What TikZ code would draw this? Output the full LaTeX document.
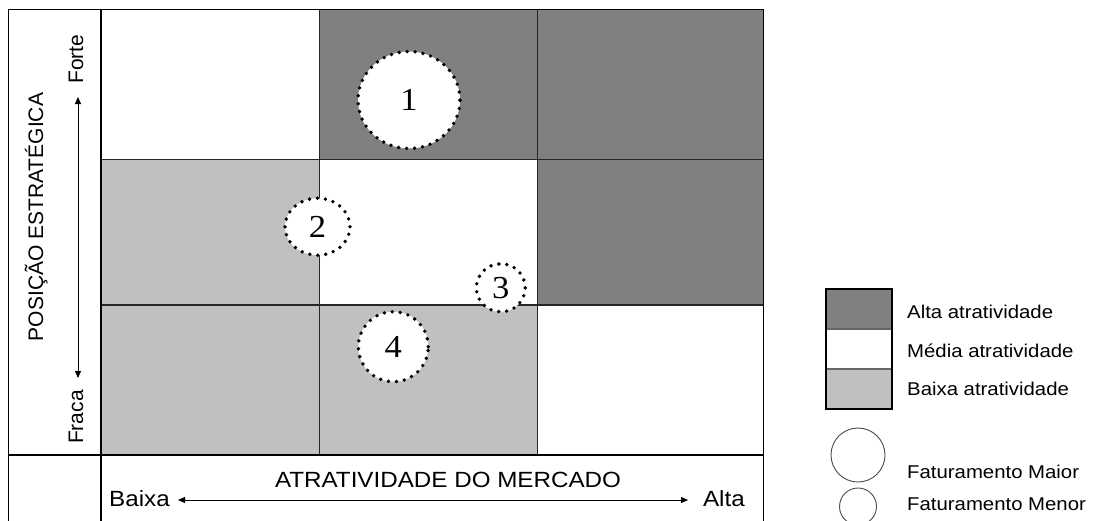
\documentclass[tikz,border=0pt]{standalone}
\usepackage{fontspec}
\setmainfont{Liberation Sans}
\newfontfamily\labfont[FakeStretch=1.1]{Liberation Sans}
\newfontfamily\numfont[FakeStretch=1.08]{Liberation Serif}
\usetikzlibrary{shapes.geometric,arrows.meta}
\definecolor{darkcell}{RGB}{128,128,128}
\definecolor{lightcell}{RGB}{192,192,192}
\begin{document}
\begin{tikzpicture}[x=1pt,y=-1pt,
  gridline/.style={line width=1.2pt, draw=black!85},
  frameline/.style={line width=1.4pt, draw=black},
  bubble/.style={ellipse, draw=black, fill=white, line width=3.8pt,
    dash pattern=on 0pt off 8pt, line cap=round, inner sep=0pt,
    font=\numfont\fontsize{32}{32}\selectfont},
  axlabel/.style={font=\labfont\fontsize{22}{22}\selectfont, inner sep=0pt},
  vlabel/.style={font=\fontsize{21}{21}\selectfont, inner sep=0pt, rotate=90, anchor=base},
  legtext/.style={font=\labfont\fontsize{18.5}{18.5}\selectfont, anchor=base west, inner sep=0pt},
  legcircle/.style={circle, draw=black!70, line width=0.9pt, inner sep=0pt},
  axarrow/.style={line width=0.9pt, {Triangle[length=7pt,width=6pt]}-{Triangle[length=7pt,width=6pt]}}
]
\useasboundingbox (0,0) rectangle (1098,520);
\fill[white] (0,0) rectangle (1098,520);
% cells
\fill[white]     (101,9.5)   rectangle (319.5,159.5);
\fill[darkcell]  (319.5,9.5) rectangle (537.5,159.5);
\fill[darkcell]  (537.5,9.5) rectangle (763.5,159.5);
\fill[lightcell] (101,159.5)   rectangle (319.5,305);
\fill[white]     (319.5,159.5) rectangle (537.5,305);
\fill[darkcell]  (537.5,159.5) rectangle (763.5,305);
\fill[lightcell] (101,305)   rectangle (319.5,455);
\fill[lightcell] (319.5,305) rectangle (537.5,455);
\fill[white]     (537.5,305) rectangle (763.5,455);
% grid lines
\draw[gridline] (319.5,9.5) -- (319.5,455);
\draw[gridline] (537.5,9.5) -- (537.5,455);
\draw[gridline] (101,159.5) -- (763.5,159.5);
\draw[gridline] (101,305) -- (763.5,305);
% frame
\draw[frameline] (8.5,530) -- (8.5,9.5) -- (763.5,9.5) -- (763.5,530);
\draw[frameline] (101,9.5) -- (101,530);
\draw[frameline] (8.5,455) -- (763.5,455);
% bubbles
\node[bubble, minimum width=102pt, minimum height=97pt] (b1) at (409,100) {1};
\node[bubble, minimum width=65pt, minimum height=57pt] (b2) at (317.5,226.7) {2};
\node[bubble, minimum width=49pt, minimum height=48pt] (b3) at (500.8,287.8) {3};
\node[bubble, minimum width=70pt, minimum height=70pt] (b4) at (393.3,346.7) {4};
% vertical axis
\node[vlabel] (posicao) at (43,217) {POSIÇÃO ESTRATÉGICA};
\node[vlabel] (forte) at (83,59) {Forte};
\node[vlabel] (fraca) at (83,417) {Fraca};
\coordinate (vtop) at (78,97);
\coordinate (vbot) at (78,378);
\draw[axarrow] (vbot) -- (vtop);
% horizontal axis
\node[axlabel, anchor=base] (atr) at (448,487) {ATRATIVIDADE DO MERCADO};
\node[axlabel, anchor=base west] (baixa) at (109,506) {Baixa};
\node[axlabel, anchor=base east] (alta) at (745,506) {Alta};
\coordinate (hleft) at (178,500);
\coordinate (hright) at (688,500);
\draw[axarrow] (hleft) -- (hright);
% legend
\fill[darkcell]  (826,289) rectangle (892,329);
\fill[white]     (826,329) rectangle (892,369);
\fill[lightcell] (826,369) rectangle (892,409);
\draw[line width=1.2pt, draw=black!60] (826,329) -- (892,329);
\draw[line width=1.2pt, draw=black!60] (826,369) -- (892,369);
\draw[line width=1.3pt] (826,289) rectangle (892,409);
\node[legtext] (lalta) at (907,318) {Alta atratividade};
\node[legtext] (lmedia) at (907,357) {Média atratividade};
\node[legtext] (lbaixa) at (907,395) {Baixa atratividade};
\node[legcircle, minimum size=54pt] (cmaior) at (858,455) {};
\node[legcircle, minimum size=37pt] (cmenor) at (858,506.5) {};
\node[legtext] (lmaior) at (907,478) {Faturamento Maior};
\node[legtext] (lmenor) at (907,510) {Faturamento Menor};
\end{tikzpicture}
\end{document}
